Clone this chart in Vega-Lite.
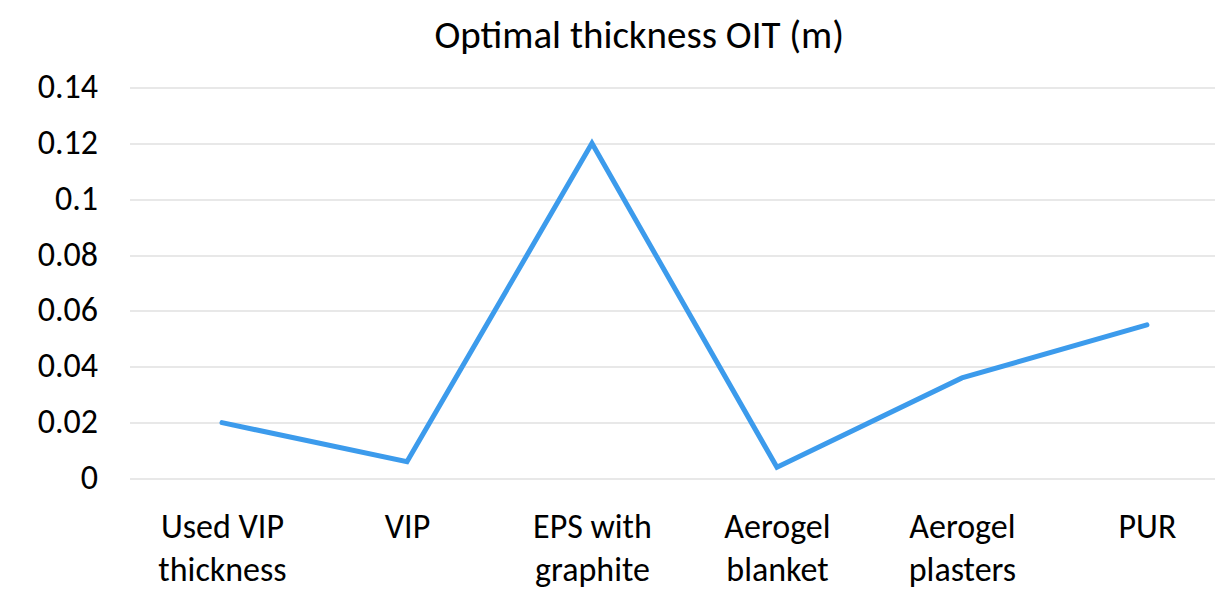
{
  "$schema": "https://vega.github.io/schema/vega-lite/v6.json",
  "width": 1085.5,
  "height": 391,
  "autosize": "none",
  "padding": {"left": 129.5, "top": 87.5, "right": 0, "bottom": 124.5},
  "background": "white",
  "title": {
    "text": "Optimal thickness OIT (m)",
    "font": "Carlito, Lato",
    "fontSize": 39,
    "fontWeight": "normal",
    "color": "#000000",
    "anchor": "middle",
    "dx": -33,
    "baseline": "alphabetic",
    "offset": -16
  },
  "data": {
    "values": [
      {"material": "Used VIP thickness", "thickness": 0.02},
      {"material": "VIP", "thickness": 0.006},
      {"material": "EPS with graphite", "thickness": 0.12},
      {"material": "Aerogel blanket", "thickness": 0.004},
      {"material": "Aerogel plasters", "thickness": 0.036},
      {"material": "PUR", "thickness": 0.055}
    ]
  },
  "mark": {"type": "line", "color": "#3C9BEC", "strokeWidth": 5, "strokeJoin": "miter", "strokeCap": "round"},
  "encoding": {
    "x": {
      "field": "material",
      "type": "nominal",
      "sort": null,
      "scale": {"type": "point", "padding": 0.434, "align": 0.576},
      "axis": {
        "title": null,
        "domain": false,
        "ticks": false,
        "grid": false,
        "labelAngle": 0,
        "labelFont": "Carlito, Lato",
        "labelFontSize": 34,
        "labelColor": "#000000",
        "labelPadding": 59,
        "labelLineHeight": 43,
        "labelBaseline": "alphabetic",
        "labelExpr": "lastindexof(datum.label, ' ') < 0 ? datum.label : [substring(datum.label, 0, lastindexof(datum.label, ' ')), substring(datum.label, lastindexof(datum.label, ' ') + 1)]"
      }
    },
    "y": {
      "field": "thickness",
      "type": "quantitative",
      "scale": {"domain": [0, 0.14], "nice": false, "zero": true},
      "axis": {
        "title": null,
        "domain": false,
        "ticks": false,
        "values": [0, 0.02, 0.04, 0.06, 0.08, 0.1, 0.12, 0.14],
        "format": ".2~f",
        "grid": true,
        "gridColor": "#e0e0e0",
        "gridWidth": 1.5,
        "labelFont": "Carlito, Lato",
        "labelFontSize": 34,
        "labelColor": "#000000",
        "labelPadding": 32
      }
    }
  },
  "config": {"view": {"stroke": null}}
}
